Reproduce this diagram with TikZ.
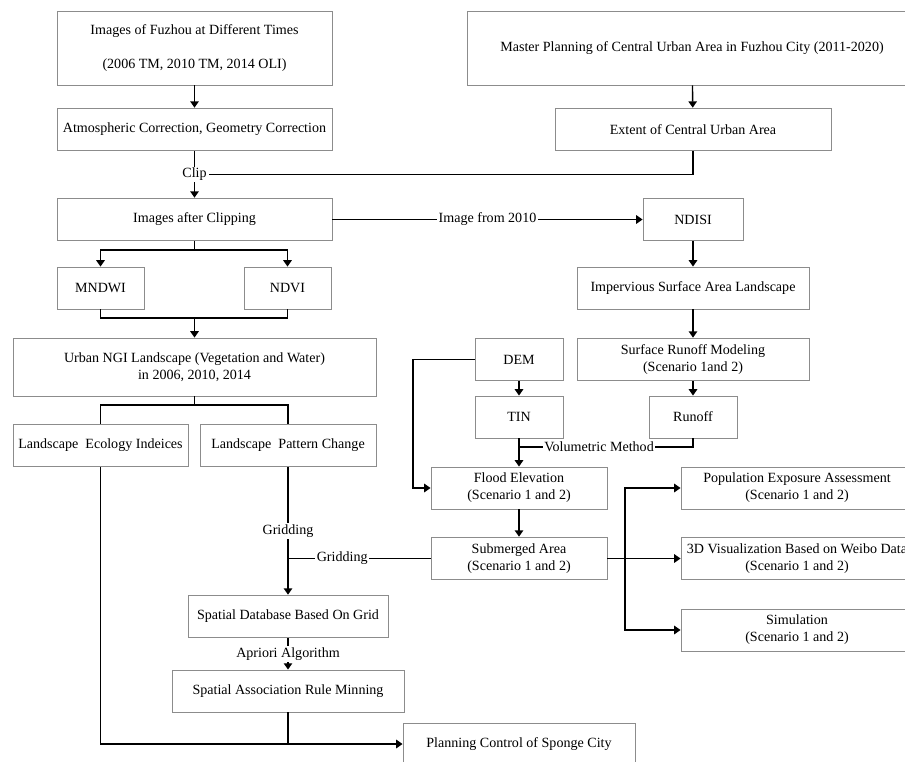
\documentclass[tikz,border=0pt]{standalone}
\usepackage{fontspec}
\setmainfont{Liberation Serif}
\usetikzlibrary{arrows.meta}
\tikzstyle{process} = [rectangle,minimum width=5.8cm,minimum height=1.07cm,align=center,draw=black!45,line width=0.6pt,inner sep=2pt,font=\fontsize{10}{12}\selectfont]
\tikzstyle{lbl} = [fill=white,inner sep=1pt,font=\fontsize{10}{12}\selectfont]
\tikzstyle{line} = [line width=1pt]
\tikzstyle{arrow} = [line width=1pt,->,>={Triangle[width=6pt,length=4.5pt]}]

\begin{document}
\begin{tikzpicture}[x=0.025cm,y=-0.025cm]
\useasboundingbox (0,0) rectangle (905,761);

% image processing
\node (imgs) [process, minimum width=6.875cm, minimum height=1.85cm] at (194.5,48) {Images of Fuzhou at Different Times\\[12pt](2006 TM, 2010 TM, 2014 OLI)};
\node (corr) [process, minimum width=6.875cm] at (194.5,129.5) {Atmospheric Correction, Geometry Correction};
\node (master) [process, minimum width=11.25cm, minimum height=1.85cm] at (692,48) {Master Planning of Central Urban Area in Fuzhou City (2011-2020)};
\node (extent) [process, minimum width=6.9cm] at (693,129.5) {Extent of Central Urban Area};
\node (clipped) [process, minimum width=6.875cm] at (194.5,219.5) {Images after Clipping};
\node (mndwi) [process, minimum width=2.175cm, minimum height=1.05cm] at (100.5,288) {MNDWI};
\node (ndvi) [process, minimum width=2.175cm, minimum height=1.05cm] at (287.5,288) {NDVI};
\node (ngi) [process, minimum width=9.075cm, minimum height=1.45cm] at (194.5,367) {Urban NGI Landscape (Vegetation and Water)\\in 2006, 2010, 2014};
\node (lei) [process, minimum width=4.375cm] at (100.5,445.5) {Landscape\ \ Ecology Indeices};
\node (lpc) [process, minimum width=4.4cm] at (288,445.5) {Landscape\ \ Pattern Change};
\node (sdb) [process, minimum width=5cm] at (288,616.5) {Spatial Database Based On Grid};
\node (sar) [process, minimum width=5.8cm, minimum height=1.05cm] at (288,691) {Spatial Association Rule Minning};
\node (plan) [process, minimum width=5.8cm, minimum height=1.05cm] at (519,744) {Planning Control of Sponge City};

% impervious surface and flood
\node (ndisi) [process, minimum width=2.5cm] at (693,219.5) {NDISI};
\node (isa) [process, minimum height=1.05cm] at (693,288) {Impervious Surface Area Landscape};
\node (srm) [process] at (693,359.5) {Surface Runoff Modeling\\(Scenario 1and 2)};
\node (runoff) [process, minimum width=2.2cm, minimum height=1.05cm] at (693,417) {Runoff};
\node (dem) [process, minimum width=2.2cm] at (519,359.5) {DEM};
\node (tin) [process, minimum width=2.2cm, minimum height=1.05cm] at (519,417) {TIN};
\node (flood) [process, minimum width=4.4cm, minimum height=1.05cm] at (519,488) {Flood Elevation\\(Scenario 1 and 2)};
\node (subm) [process, minimum width=4.4cm] at (519,558.5) {Submerged Area\\(Scenario 1 and 2)};
\node (pop) [process, minimum height=1.05cm] at (797,488) {Population Exposure Assessment\\(Scenario 1 and 2)};
\node (vis) [process] at (797,558.5) {3D Visualization Based on Weibo Data\\(Scenario 1 and 2)};
\node (sim) [process, minimum height=1.05cm] at (797,630) {Simulation\\(Scenario 1 and 2)};

% junction points
\coordinate (c1) at (194.5,250);
\coordinate (c2) at (194.5,318);
\coordinate (c3) at (194.5,405);
\coordinate (c5) at (519,447);
\coordinate (c6) at (413,359.5);
\coordinate (c7) at (625,558.5);
\coordinate (c8) at (288,558.5);

\draw [arrow] (imgs) -- (corr);
\draw [arrow] (master) -- (extent);
\draw [arrow] (corr) -- node[lbl,pos=0.5](clip){Clip} (clipped);
\draw [line] (extent) |- (clip);
\draw [arrow] (clipped) -- node[lbl,pos=0.5]{Image from 2010} (ndisi);
\draw [arrow] (clipped) -- (c1) -| (mndwi);
\draw [arrow] (c1) -| (ndvi);
\draw [line] (mndwi) |- (c2);
\draw [line] (ndvi) |- (c2);
\draw [arrow] (c2) -- (ngi);
\draw [line] (ngi) -- (c3) -| (lei);
\draw [line] (c3) -| (lpc);
\draw [arrow] (lpc) -- node[lbl,pos=0.5]{Gridding} (sdb);
\draw [line] (subm) -- node[lbl,pos=0.62]{Gridding} (c8);
\draw [arrow] (sdb) -- node[lbl,pos=0.5]{Apriori Algorithm} (sar);
\draw [arrow] (lei) |- (plan);
\draw [line] (sar) -- (sar |- plan);

\draw [arrow] (ndisi) -- (isa);
\draw [arrow] (isa) -- (srm);
\draw [arrow] (srm) -- (runoff);
\draw [arrow] (dem) -- (tin);
\draw [arrow] (tin) -- (flood);
\draw [line] (runoff) |- node[lbl,pos=0.77]{Volumetric Method} (c5);
\draw [arrow] (dem) -- (c6) |- (flood);
\draw [arrow] (flood) -- (subm);
\draw [arrow] (subm) -- (vis);
\draw [arrow] (c7) |- (pop);
\draw [arrow] (c7) |- (sim);

\end{tikzpicture}
\end{document}
